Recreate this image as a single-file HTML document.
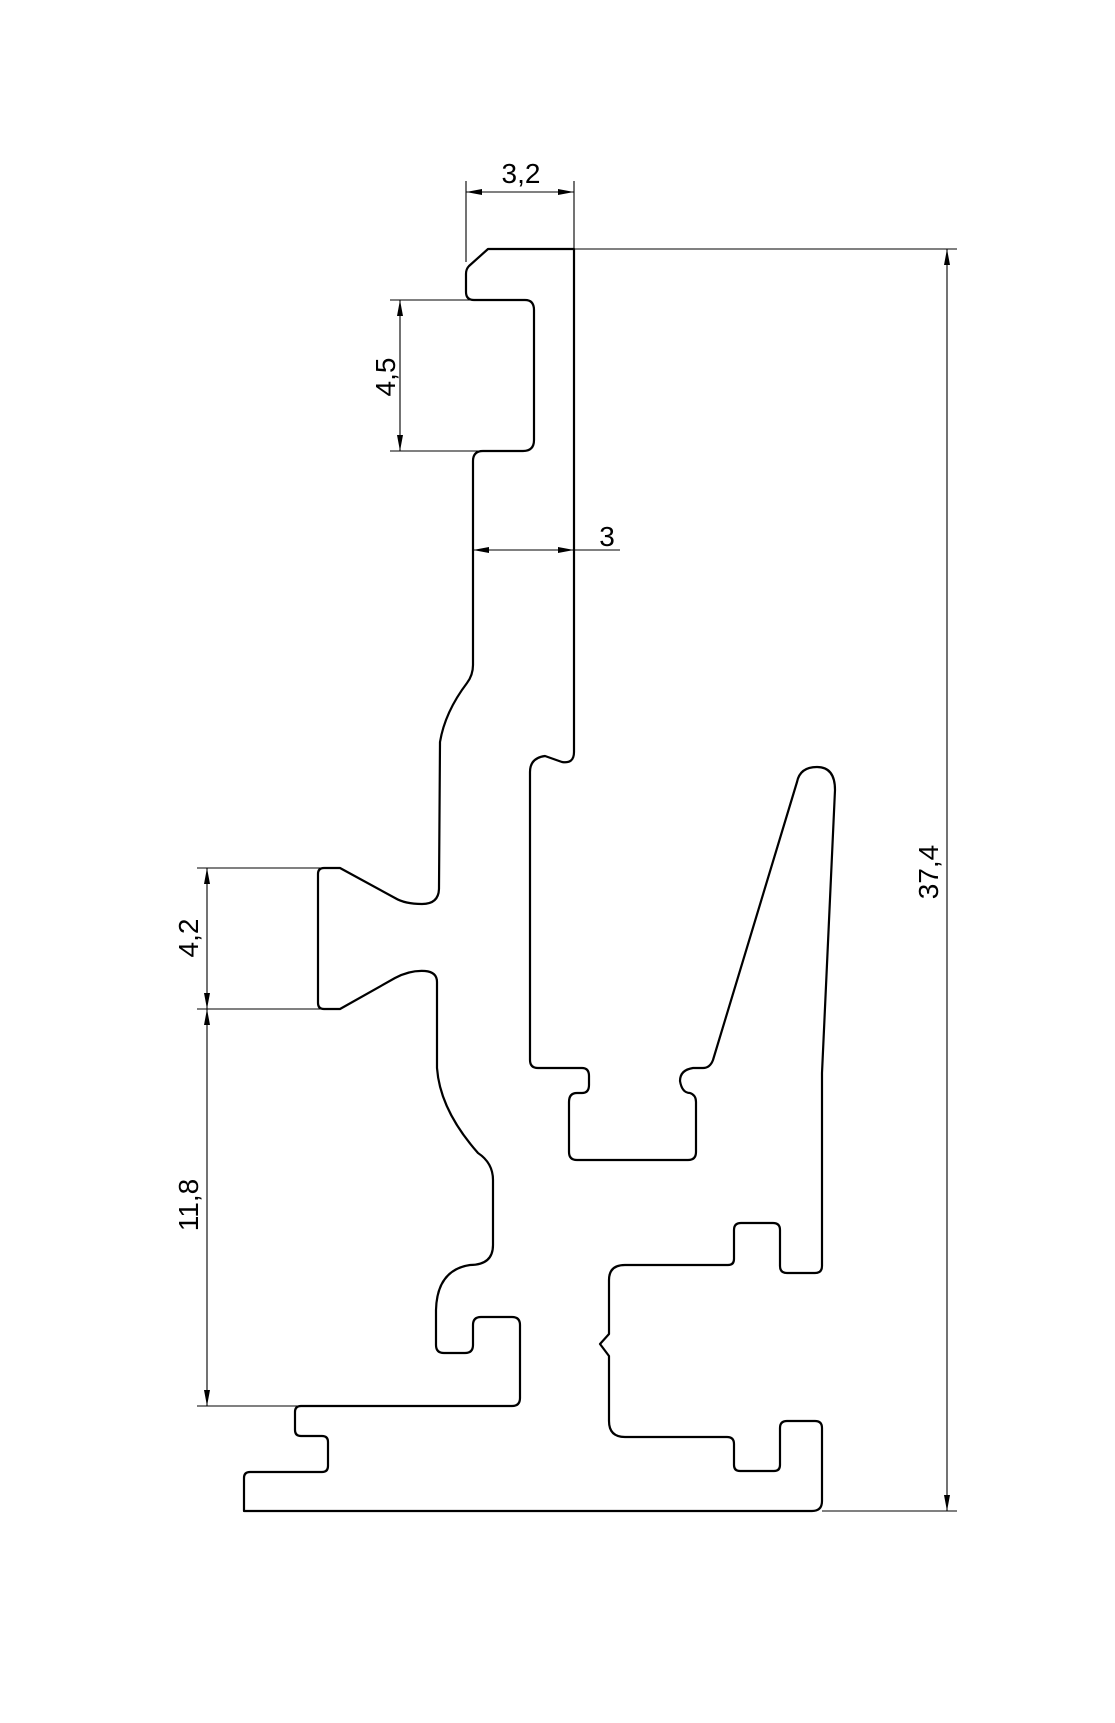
<!DOCTYPE html>
<html><head><meta charset="utf-8"><style>html,body{margin:0;padding:0;background:#fff}svg{display:block}</style></head>
<body>
<svg width="1115" height="1723" viewBox="0 0 1115 1723" xmlns="http://www.w3.org/2000/svg">
<defs>
<marker id="a" viewBox="0 0 16 6" refX="16" refY="3" markerWidth="16" markerHeight="6" markerUnits="userSpaceOnUse" orient="auto-start-reverse"><path d="M0,0 L16,3 L0,6 Z" fill="#000"/></marker>
</defs>
<path fill="none" stroke="#000" stroke-width="2.2" stroke-linejoin="round" d="M574,249 L488,249 L469,266 Q466,269 466,274 L466,292 Q466,300 474,300 L525,300 Q534,300 534,310 L534,440 Q534,451 523,451 L483,451 Q473,451 473,461 L473,665 Q473,675 467,683 Q445,712 440,742 L439,888 Q439,904 422,904 Q405,904 395,898 L340,868 L324,868 Q318,868 318,874 L318,1003 Q318,1009 324,1009 L340,1009 L395,978 Q410,970 425,971 Q437,972 437,982 L437,1068 Q440,1110 478,1153 Q493,1163 493,1180 L493,1245 Q493,1265 470,1265 Q437,1270 436,1310 L436,1345 Q436,1353 444,1353 L465,1353 Q473,1353 473,1345 L473,1325 Q473,1317 481,1317 L512,1317 Q520,1317 520,1325 L520,1398 Q520,1406 512,1406 L301,1406 Q295,1406 295,1412 L295,1430 Q295,1436 301,1436 L322,1436 Q328,1436 328,1442 L328,1466 Q328,1472 322,1472 L250,1472 Q244,1472 244,1478 L244,1511 L812,1511 Q822,1511 822,1501 L822,1428 Q822,1421 815,1421 L787,1421 Q780,1421 780,1428 L780,1465 Q780,1471 774,1471 L740,1471 Q734,1471 734,1465 L734,1444 Q734,1437 727,1437 L625,1437 Q609,1437 609,1421 L609,1356 L600,1344 L609,1334 L609,1280 Q609,1265 625,1265 L728,1265 Q734,1265 734,1259 L734,1230 Q734,1223 741,1223 L773,1223 Q780,1223 780,1230 L780,1266 Q780,1273 787,1273 L815,1273 Q822,1273 822,1266 L822,1073 L835,790 Q835,767 817,767 Q800,767 797,782 L713,1060 Q710,1068 703,1068 L693,1068 Q680,1070 680,1081 Q682,1093 690,1093 Q696,1095 696,1102 L696,1152 Q696,1160 688,1160 L577,1160 Q569,1160 569,1152 L569,1102 Q569,1093 577,1093 L582,1093 Q589,1093 589,1085 L589,1076 Q589,1068 582,1068 L538,1068 Q530,1068 530,1060 L530,772 Q530,758 545,756 L562,762 Q574,764 574,752 Z"/>
<g stroke="#000" stroke-width="1.1" fill="none">
<!-- 3,2 -->
<line x1="466" y1="181" x2="466" y2="262"/>
<line x1="574" y1="181" x2="574" y2="249"/>
<line x1="466" y1="192" x2="574" y2="192" marker-start="url(#a)" marker-end="url(#a)"/>
<!-- 37,4 -->
<line x1="574" y1="249" x2="957" y2="249"/>
<line x1="822" y1="1511" x2="957" y2="1511"/>
<line x1="947" y1="249" x2="947" y2="1511" marker-start="url(#a)" marker-end="url(#a)"/>
<!-- 4,5 -->
<line x1="390" y1="300" x2="474" y2="300"/>
<line x1="390" y1="451" x2="483" y2="451"/>
<line x1="400" y1="300" x2="400" y2="451" marker-start="url(#a)" marker-end="url(#a)"/>
<!-- 3 -->
<line x1="473" y1="550" x2="574" y2="550" marker-start="url(#a)" marker-end="url(#a)"/>
<line x1="574" y1="550" x2="620" y2="550"/>
<!-- 4,2 -->
<line x1="197" y1="868" x2="322" y2="868"/>
<line x1="197" y1="1009" x2="322" y2="1009"/>
<line x1="207" y1="868" x2="207" y2="1009" marker-start="url(#a)" marker-end="url(#a)"/>
<!-- 11,8 -->
<line x1="197" y1="1406" x2="300" y2="1406"/>
<line x1="207" y1="1009" x2="207" y2="1406" marker-start="url(#a)" marker-end="url(#a)"/>
</g>
<g font-family="Liberation Sans, sans-serif" font-size="28" fill="#000" text-anchor="middle">
<text x="521" y="183">3,2</text>
<text x="607" y="546">3</text>
<text transform="translate(395,377) rotate(-90)">4,5</text>
<text transform="translate(198,938) rotate(-90)">4,2</text>
<text transform="translate(198,1205) rotate(-90)">11,8</text>
<text transform="translate(938,872) rotate(-90)">37,4</text>
</g>
</svg>
</body></html>
